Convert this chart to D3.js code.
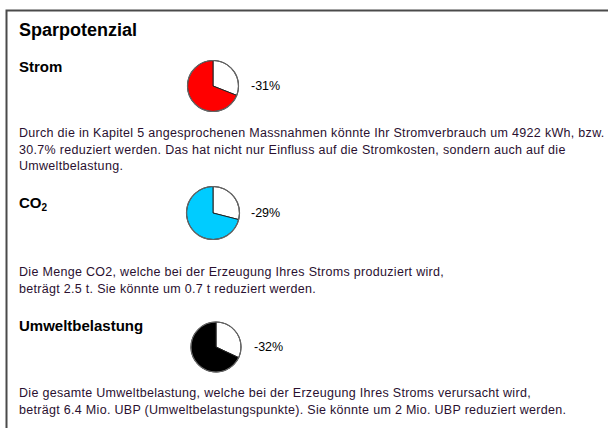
<!DOCTYPE html>
<html>
<head>
<meta charset="utf-8">
<script src="https://cdn.jsdelivr.net/npm/d3@7"></script>
<style>
  body { margin: 0; background: #fff; }
  svg { display: block; font-family: "Liberation Sans", Arial, sans-serif; }
  .para { letter-spacing: 0.3px; }
</style>
</head>
<body>
<div id="chart"></div>
<script>
// data
var categories = ["Strom", "CO2", "Umweltbelastung"];
var savingsPct = [31, 29, 32];
var pieColors = ["#ff0000", "#00ccff", "#000000"];
var pctLabels = ["-31%", "-29%", "-32%"];
var paragraphs = [
    ["Durch die in Kapitel 5 angesprochenen Massnahmen könnte Ihr Stromverbrauch um 4922 kWh, bzw.",
     "30.7% reduziert werden. Das hat nicht nur Einfluss auf die Stromkosten, sondern auch auf die",
     "Umweltbelastung."],
    ["Die Menge CO2, welche bei der Erzeugung Ihres Stroms produziert wird,",
     "beträgt 2.5 t. Sie könnte um 0.7 t reduziert werden."],
    ["Die gesamte Umweltbelastung, welche bei der Erzeugung Ihres Stroms verursacht wird,",
     "beträgt 6.4 Mio. UBP (Umweltbelastungspunkte). Sie könnte um 2 Mio. UBP reduziert werden."]
];

var w = 608, h = 428;

var svg = d3.select("#chart")
    .append("svg")
    .attr("width", w)
    .attr("height", h);

// frame
svg.append("path")
    .attr("d", "M6.5," + h + "V10.5H" + w)
    .attr("fill", "none")
    .attr("stroke", "#4a4a4a")
    .attr("stroke-width", 2);

svg.append("text")
    .attr("x", 19)
    .attr("y", 36)
    .attr("font-size", 18)
    .attr("font-weight", "bold")
    .attr("fill", "#000")
    .text("Sparpotenzial");

// layout of each block
var blockTop = [72, 208, 331];     // heading baseline
var pieCenter = [[213, 86], [213, 213], [216, 347]];
var pieR = [25.5, 26.5, 25];
var paraTop = [137, 276, 397];
var lineGap = 16.5;

var pie = d3.pie().sort(null).value(function (d) { return d; });
var arc = d3.arc().innerRadius(0);

categories.forEach(function (c, i) {
    var g = svg.append("g");

    var head = g.append("text")
        .attr("x", 19)
        .attr("y", blockTop[i])
        .attr("font-size", 15)
        .attr("font-weight", "bold")
        .attr("fill", "#000");
    if (c == "CO2") {
        head.append("tspan").text("CO");
        head.append("tspan").attr("font-size", 10).attr("dy", 3).text("2");
    } else {
        head.text(c);
    }

    var slices = pie([savingsPct[i], 100 - savingsPct[i]]);
    var pg = g.append("g")
        .attr("transform", "translate(" + pieCenter[i][0] + "," + pieCenter[i][1] + ")");
    pg.selectAll("path")
        .data(slices)
        .enter().append("path")
        .attr("d", function (d) { return arc.outerRadius(pieR[i])(d); })
        .attr("fill", function (d, k) { return k == 0 ? "#ffffff" : pieColors[i]; })
        .attr("stroke", "#222")
        .attr("stroke-width", 1);
    pg.append("circle")
        .attr("r", pieR[i])
        .attr("fill", "none")
        .attr("stroke", "#666")
        .attr("stroke-width", 1.2);

    g.append("text")
        .attr("x", pieCenter[i][0] + 38)
        .attr("y", pieCenter[i][1] + 4)
        .attr("font-size", 12.5)
        .attr("fill", "#000")
        .text(pctLabels[i]);

    g.selectAll("text.para")
        .data(paragraphs[i])
        .enter().append("text")
        .attr("class", "para")
        .attr("x", 19)
        .attr("y", function (d, k) { return paraTop[i] + k * lineGap; })
        .attr("font-size", 12.5)
        .attr("fill", "#2a1030")
        .text(function (d) { return d; });
});
</script>
</body>
</html>
